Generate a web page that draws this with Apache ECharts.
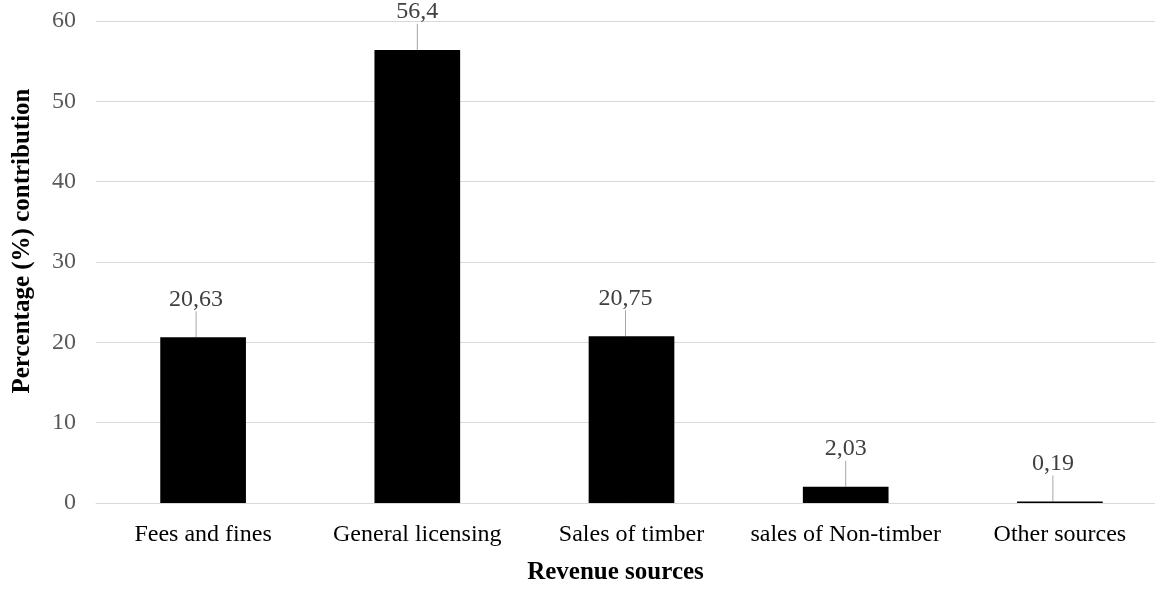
<!DOCTYPE html>
<html>
<head>
<meta charset="utf-8">
<script src="https://cdn.jsdelivr.net/npm/echarts@6/dist/echarts.min.js"></script>
<style>
  html, body { margin: 0; padding: 0; background: #fff; }
  #chart { width: 1155px; height: 593px; }
</style>
</head>
<body>
<div id="chart"></div>
<script>
// data
const categories = ['Fees and fines', 'General licensing', 'Sales of timber', 'sales of Non-timber', 'Other sources'];
const contribution = [20.63, 56.4, 20.75, 2.03, 0.19];
const yTicks = [0, 10, 20, 30, 40, 50, 60];

// small horizontal nudges of the callout labels, as in the original
const labelNudge = [-7, 0, -6, 0, -7];

const chart = echarts.init(document.getElementById('chart'));
const serif = '"Liberation Serif", "Times New Roman", serif';

chart.setOption({
    animation: false,
    grid: { left: 96, right: -12, top: 21, bottom: 90, outerBoundsMode: 'none', containLabel: false },
    xAxis: {
        type: 'category',
        data: categories,
        name: 'Revenue sources',
        nameLocation: 'middle',
        nameGap: 57,
        nameTextStyle: {
            fontFamily: serif, fontSize: 25, fontWeight: 'bold', color: '#000',
            padding: [0, 32, 0, 0]
        },
        axisTick: { show: false },
        axisLine: { lineStyle: { color: '#d9d9d9', width: 1 } },
        axisLabel: { interval: 0, fontFamily: serif, fontSize: 24, color: '#000', margin: 20 }
    },
    yAxis: {
        type: 'value',
        min: yTicks[0],
        max: yTicks[yTicks.length - 1],
        interval: 10,
        name: 'Percentage (%) contribution',
        nameLocation: 'middle',
        nameGap: 61,
        nameTextStyle: {
            fontFamily: serif, fontSize: 25, fontWeight: 'bold', color: '#000',
            padding: [0, 0, 0, 42]
        },
        axisLine: { show: false },
        axisTick: { show: false },
        axisLabel: { fontFamily: serif, fontSize: 24, color: '#595959', margin: 20 },
        splitLine: { lineStyle: { color: '#d9d9d9', width: 1 } }
    },
    series: [{
        type: 'bar',
        data: contribution,
        barWidth: '40%',
        itemStyle: { color: '#000' },
        label: {
            show: true,
            position: 'top',
            fontFamily: serif,
            fontSize: 24,
            color: '#404040',
            formatter: p => String(p.value).replace('.', ',')
        },
        labelLayout: p => ({ dx: labelNudge[p.dataIndex], dy: -21 }),
        labelLine: { show: true, lineStyle: { color: '#a6a6a6', width: 1 } }
    }]
});
</script>
</body>
</html>
